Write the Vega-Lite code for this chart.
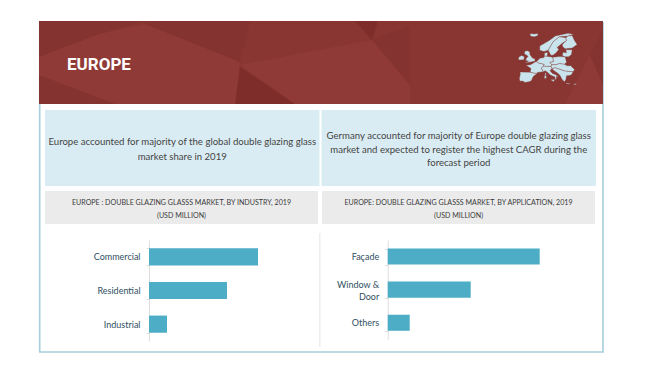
{"$schema":"https://vega.github.io/schema/vega-lite/v6.json","width":650,"height":368,"padding":0,"autosize":{"type":"none"},"background":"white","config":{"view":{"stroke":null},"font":"Lato"},"resolve":{"scale":{"x":"independent","y":"independent"},"axis":{"x":"independent","y":"independent"}},
"layer":[
{"data":{"values":[{"part":"frame"}]},"mark":{"type":"rect","fill":null,"stroke":"#A5CEDB","strokeWidth":1.6},"encoding":{"x":{"field":"part","type":"nominal","axis":null,"scale":{"type":"band","range":[39.7,603],"paddingInner":0,"paddingOuter":0}},"y":{"field":"part","type":"nominal","axis":null,"scale":{"type":"band","range":[23,352],"paddingInner":0,"paddingOuter":0}}}},
{"data":{"values":[{"part":"header"}]},"mark":{"type":"rect","fill":"#893632"},"encoding":{"x":{"field":"part","type":"nominal","axis":null,"scale":{"type":"band","range":[39,603],"paddingInner":0,"paddingOuter":0}},"y":{"field":"part","type":"nominal","axis":null,"scale":{"type":"band","range":[21,104],"paddingInner":0,"paddingOuter":0}}}},
{"data":{"values":{"type":"FeatureCollection","features":[
{"type":"Feature","properties":{"tone":"dark"},"geometry":{"type":"Polygon","coordinates":[[[0,0],[106,0],[60,13],[0,36],[0,0]]]}},
{"type":"Feature","properties":{"tone":"dark"},"geometry":{"type":"Polygon","coordinates":[[[106,0],[211,0],[201,41],[106,3],[106,0]]]}},
{"type":"Feature","properties":{"tone":"dark"},"geometry":{"type":"Polygon","coordinates":[[[0,54],[76,83],[0,83],[0,54]]]}},
{"type":"Feature","properties":{"tone":"deep"},"geometry":{"type":"Polygon","coordinates":[[[201,46],[256,83],[196,83],[201,46]]]}},
{"type":"Feature","properties":{"tone":"light"},"geometry":{"type":"Polygon","coordinates":[[[201,44],[333,19],[371,64],[371,83],[256,83],[201,44]]]}},
{"type":"Feature","properties":{"tone":"light"},"geometry":{"type":"Polygon","coordinates":[[[106,3],[201,41],[196,83],[76,83],[0,54],[0,36],[60,13],[106,3]]]}},
{"type":"Feature","properties":{"tone":"deep"},"geometry":{"type":"Polygon","coordinates":[[[316,0],[339,0],[333,19],[316,0]]]}},
{"type":"Feature","properties":{"tone":"dark"},"geometry":{"type":"Polygon","coordinates":[[[333,19],[371,5],[371,64],[333,19]]]}},
{"type":"Feature","properties":{"tone":"dark"},"geometry":{"type":"Polygon","coordinates":[[[551,34],[564,9],[564,64],[551,34]]]}},
{"type":"Feature","properties":{"tone":"light"},"geometry":{"type":"Polygon","coordinates":[[[551,34],[564,64],[564,83],[526,83],[551,34]]]}}
]},"format":{"type":"json","property":"features"}},"mark":{"type":"geoshape","strokeWidth":0},"projection":{"type":"identity","scale":1,"translate":[39,21]},"encoding":{"color":{"field":"properties.tone","type":"nominal","legend":null,"scale":{"domain":["dark","deep","light"],"range":["#843330","#7E2D2A","#8F3A36"]}}}},
{"data":{"values":{"type":"FeatureCollection","features":[
{"type":"Feature","properties":{"name":"Iberia"},"geometry":{"type":"Polygon","coordinates":[[[-9,37],[-9.5,38.7],[-8.8,42],[-9,43.5],[-1.8,43.4],[3.2,42.4],[0.5,40.5],[-0.3,39],[-0.7,37.7],[-2,36.8],[-5.5,36.1],[-7,37.1],[-9,37]]]}},
{"type":"Feature","properties":{"name":"France"},"geometry":{"type":"Polygon","coordinates":[[[-1.8,43.4],[-1.2,46],[-4.7,48.4],[-1.6,48.7],[1.5,50.5],[2.6,51],[4.2,50],[8.2,49],[7.5,47.6],[6.2,46.3],[7.5,43.8],[3.2,43.2],[3.2,42.4],[-1.8,43.4]]]}},
{"type":"Feature","properties":{"name":"Germany"},"geometry":{"type":"Polygon","coordinates":[[[2.6,51],[4,52],[5,53.3],[8,53.8],[8.5,55],[9.8,54.8],[14.2,54],[14.8,51],[12.2,50.3],[13.5,48.7],[13,47.5],[7.5,47.6],[8.2,49],[4.2,50],[2.6,51]]]}},
{"type":"Feature","properties":{"name":"Denmark"},"geometry":{"type":"Polygon","coordinates":[[[8.2,55.5],[8.5,57],[10.5,57.6],[10.5,55.5],[9.8,54.8],[8.5,55],[8.2,55.5]]]}},
{"type":"Feature","properties":{"name":"Italy"},"geometry":{"type":"Polygon","coordinates":[[[6.2,46.3],[7.5,47.6],[13,47.5],[13.7,46],[12.3,44.5],[14,42.5],[16,41.8],[18.4,40.1],[16.9,40.4],[16.6,39.5],[17,38.9],[15.7,38],[15.8,40],[12.5,41.4],[10.3,43.5],[8.8,44.4],[7.5,43.8],[6.2,46.3]]]}},
{"type":"Feature","properties":{"name":"Poland"},"geometry":{"type":"Polygon","coordinates":[[[14.2,54],[19,54.5],[23,54.3],[24,50.5],[22.5,49],[19,49.5],[16.5,48.7],[13.5,48.7],[12.2,50.3],[14.8,51],[14.2,54]]]}},
{"type":"Feature","properties":{"name":"Danube"},"geometry":{"type":"Polygon","coordinates":[[[13,47.5],[13.5,48.7],[16.5,48.7],[19,49.5],[22.5,49],[24.5,47.9],[27,48],[29.7,45.2],[28.6,43.7],[22.7,44.2],[19,45.5],[16,46.5],[13.7,46],[13,47.5]]]}},
{"type":"Feature","properties":{"name":"Balkans"},"geometry":{"type":"Polygon","coordinates":[[[13.7,46],[16,46.5],[19,45.5],[22.7,44.2],[28.6,43.7],[27.8,42],[26.3,41],[24,40.8],[23.5,38],[22.5,36.6],[21,38],[19.4,41],[18,42.5],[14.5,45],[13.7,46]]]}},
{"type":"Feature","properties":{"name":"UK"},"geometry":{"type":"Polygon","coordinates":[[[-5.5,50],[1.5,51.2],[1.7,52.7],[-0.2,53.5],[-2,56],[-2,57.6],[-3.5,58.6],[-5.5,58.5],[-6,56.5],[-3.2,54.8],[-4.5,53.3],[-5,51.7],[-3,51.3],[-5.5,50]]]}},
{"type":"Feature","properties":{"name":"Ireland"},"geometry":{"type":"Polygon","coordinates":[[[-10,52],[-6.2,52.2],[-6,54.5],[-8,55.2],[-10,54],[-10,52]]]}},
{"type":"Feature","properties":{"name":"Norway"},"geometry":{"type":"Polygon","coordinates":[[[5,59],[5,62],[12,66],[16,69],[25,71],[29,70.3],[25,69],[19,68.5],[14.5,65],[12.2,61],[11,59],[8,58],[5,59]]]}},
{"type":"Feature","properties":{"name":"Sweden"},"geometry":{"type":"Polygon","coordinates":[[[11,59],[12.2,61],[14.5,65],[19,68.5],[23.5,67.8],[24,65.8],[21,64],[17.3,61],[18.5,59.5],[16.5,57],[14.3,55.5],[12.8,55.5],[11,59]]]}},
{"type":"Feature","properties":{"name":"Finland"},"geometry":{"type":"Polygon","coordinates":[[[23.5,67.8],[25,69],[28,69.5],[29.5,66],[31.5,63],[28,60.5],[23,60],[21.3,61.5],[21,63],[24,65.8],[23.5,67.8]]]}},
{"type":"Feature","properties":{"name":"Baltics"},"geometry":{"type":"Polygon","coordinates":[[[21,55.2],[21.5,57.5],[24,57.2],[23.5,59.3],[28,59.4],[27.5,56],[25.5,54.3],[23,54.3],[21,55.2]]]}},
{"type":"Feature","properties":{"name":"Iceland"},"geometry":{"type":"Polygon","coordinates":[[[-2,69.5],[-1.5,70.8],[1,70.5],[3.7,70.8],[3.7,69.5],[1.5,68.5],[-0.5,68.7],[-2,69.5]]]}},
{"type":"Feature","properties":{"name":"Sicily"},"geometry":{"type":"Polygon","coordinates":[[[12.5,38],[15.6,38.2],[15,36.7],[12.5,38]]]}},
{"type":"Feature","properties":{"name":"Sardinia"},"geometry":{"type":"Polygon","coordinates":[[[8.3,39],[8.3,41],[9.7,41],[9.7,39.2],[8.3,39]]]}},
{"type":"Feature","properties":{"name":"Corsica"},"geometry":{"type":"Polygon","coordinates":[[[8.6,41.6],[8.8,42.8],[9.5,43],[9.5,41.5],[8.6,41.6]]]}},
{"type":"Feature","properties":{"name":"Crete"},"geometry":{"type":"Polygon","coordinates":[[[23.6,35.7],[26.3,35.4],[26.2,34.9],[23.6,35.2],[23.6,35.7]]]}},
{"type":"Feature","properties":{"name":"Cyprus"},"geometry":{"type":"Polygon","coordinates":[[[28.5,34.7],[31,35.6],[30.5,34.5],[28.5,34.7]]]}}
]},"format":{"type":"json","property":"features"}},"mark":{"type":"geoshape","fill":"#C9E4EC","stroke":"#7F3A38","strokeWidth":0.35},"projection":{"type":"identity","scale":1.41,"reflectY":true,"translate":[532.7,133.4]},"encoding":{}},
{"data":{"values":[{"label":"EUROPE"}]},"mark":{"type":"text","align":"left","baseline":"middle","font":"Roboto","fontSize":17,"fontWeight":"bold","color":"white"},"encoding":{"text":{"field":"label"},"x":{"field":"label","type":"nominal","axis":null,"bandPosition":0,"scale":{"type":"band","range":[67,131],"paddingInner":0,"paddingOuter":0}},"y":{"field":"label","type":"nominal","axis":null,"scale":{"type":"band","range":[21,108],"paddingInner":0,"paddingOuter":0}}}},
{"data":{"values":[{"side":"left"},{"side":"right"}]},"mark":{"type":"rect","fill":"#DAECF3"},"encoding":{"x":{"field":"side","type":"nominal","axis":null,"scale":{"type":"band","domain":["left","right"],"range":[45,596],"paddingInner":0.0073,"paddingOuter":0}},"y":{"datum":"note","type":"nominal","axis":null,"scale":{"type":"band","range":[110,186],"paddingInner":0,"paddingOuter":0}}}},
{"data":{"values":[{"side":"left","note":"Europe accounted for majority of the global double glazing glass\nmarket share in 2019"}]},"mark":{"type":"text","lineBreak":"\n","lineHeight":15,"fontSize":9.6,"color":"#444444","baseline":"middle"},"encoding":{"text":{"field":"note"},"x":{"field":"side","type":"nominal","axis":null,"scale":{"type":"band","domain":["left","right"],"range":[45,596],"paddingInner":0.0073,"paddingOuter":0}},"y":{"datum":"note","type":"nominal","axis":null,"scale":{"type":"band","range":[110,174],"paddingInner":0,"paddingOuter":0}}}},
{"data":{"values":[{"side":"right","note":"Germany accounted for majority of Europe double glazing glass\nmarket and expected to register the highest CAGR during the\nforecast period"}]},"mark":{"type":"text","lineBreak":"\n","lineHeight":13.5,"fontSize":9.6,"color":"#444444","baseline":"middle"},"encoding":{"text":{"field":"note"},"x":{"field":"side","type":"nominal","axis":null,"scale":{"type":"band","domain":["left","right"],"range":[45,596],"paddingInner":0.0073,"paddingOuter":0}},"y":{"datum":"note","type":"nominal","axis":null,"scale":{"type":"band","range":[110,162],"paddingInner":0,"paddingOuter":0}}}},
{"data":{"values":[{"side":"left","title":"EUROPE : DOUBLE GLAZING GLASSS MARKET, BY INDUSTRY, 2019\n(USD MILLION)"},{"side":"right","title":"EUROPE: DOUBLE GLAZING GLASSS MARKET, BY APPLICATION, 2019\n(USD MILLION)"}]},"layer":[
{"mark":{"type":"rect","fill":"#EBEBEB"},"encoding":{"x":{"field":"side","type":"nominal","axis":null,"scale":{"type":"band","domain":["left","right"],"range":[45,595],"paddingInner":0.0147,"paddingOuter":0}},"y":{"datum":"title","type":"nominal","axis":null,"scale":{"type":"band","range":[191,224],"paddingInner":0,"paddingOuter":0}}}},
{"mark":{"type":"text","lineBreak":"\n","lineHeight":12.5,"fontSize":7.1,"color":"#3A3A3A","baseline":"middle"},"encoding":{"text":{"field":"title"},"x":{"field":"side","type":"nominal","axis":null,"scale":{"type":"band","domain":["left","right"],"range":[45,595],"paddingInner":0.0147,"paddingOuter":0}},"y":{"datum":"title","type":"nominal","axis":null,"scale":{"type":"band","range":[191,215],"paddingInner":0,"paddingOuter":0}}}}
],"resolve":{"scale":{"x":"shared","y":"independent"}}},
{"data":{"values":[{"part":"divider"}]},"mark":{"type":"rect","fill":"#EEEEEE"},"encoding":{"x":{"field":"part","type":"nominal","axis":null,"scale":{"type":"band","range":[319,320.5],"paddingInner":0,"paddingOuter":0}},"y":{"field":"part","type":"nominal","axis":null,"scale":{"type":"band","range":[233,347],"paddingInner":0,"paddingOuter":0}}}},
{"data":{"values":[{"industry":"Commercial","value":109},{"industry":"Residential","value":78},{"industry":"Industrial","value":18}]},"mark":{"type":"bar","color":"#4EADC6"},"encoding":{"x":{"field":"value","type":"quantitative","axis":null,"scale":{"domain":[0,100],"range":[149,249],"nice":false,"clamp":false}},"y":{"field":"industry","type":"nominal","sort":null,"title":null,"scale":{"range":[240,341],"paddingInner":0.49,"paddingOuter":0.245},"axis":{"orient":"left","offset":-149,"domainColor":"#DDDDDD","tickColor":"#DDDDDD","tickSize":3,"tickBand":"extent","labelPadding":6,"labelFontSize":9,"labelColor":"#2F4F5F","grid":false}}}},
{"data":{"values":[{"application":"Façade","value":152},{"application":"Window & Door","value":83},{"application":"Others","value":22}]},"mark":{"type":"bar","color":"#4EADC6"},"encoding":{"x":{"field":"value","type":"quantitative","axis":null,"scale":{"domain":[0,100],"range":[387.7,487.7],"nice":false}},"y":{"field":"application","type":"nominal","sort":null,"title":null,"scale":{"range":[240,339.3],"paddingInner":0.515,"paddingOuter":0.2575},"axis":{"orient":"left","offset":-387.7,"domainColor":"#DDDDDD","tickColor":"#DDDDDD","tickSize":3,"tickBand":"extent","labelPadding":6,"labelFontSize":9,"labelColor":"#2F4F5F","labelLineHeight":12,"labelOffset":{"condition":{"test":"datum.value=='Window & Door'","value":-5},"value":0},"labelExpr":"datum.value=='Window & Door' ? ['Window &','Door'] : datum.label","grid":false}}}}
]}
